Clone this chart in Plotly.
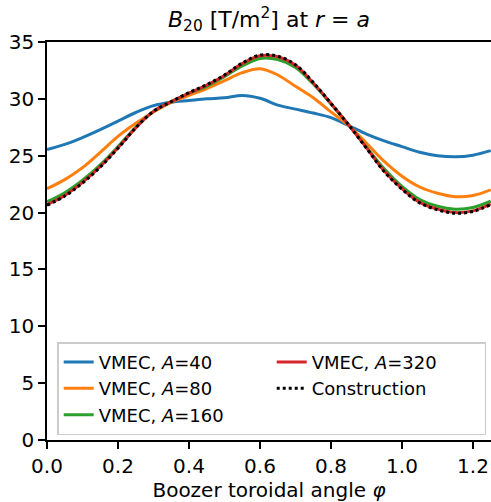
import numpy as np
import plotly.graph_objects as go

# Boozer toroidal angle grid (one field period)
phi = [0.00, 0.05, 0.10, 0.15, 0.20, 0.25, 0.30, 0.35, 0.40, 0.45, 0.50, 0.55, 0.60,
       0.65, 0.70, 0.75, 0.80, 0.85, 0.90, 0.95, 1.00, 1.05, 1.10, 1.15, 1.20, 1.25]

# B20 at r = a for each VMEC aspect ratio
b20_a40 = [25.55, 26.00, 26.60, 27.30, 28.05, 28.80, 29.40, 29.70, 29.85, 30.00, 30.10, 30.30, 30.05,
           29.45, 29.10, 28.75, 28.35, 27.65, 26.90, 26.30, 25.80, 25.30, 25.00, 24.90, 25.05, 25.45]
b20_a80 = [22.10, 22.90, 23.95, 25.30, 26.70, 27.85, 28.85, 29.70, 30.30, 30.90, 31.60, 32.30, 32.65,
           32.10, 31.10, 30.10, 28.85, 27.65, 26.10, 24.50, 23.20, 22.25, 21.70, 21.40, 21.50, 22.00]
b20_a160 = [20.95, 21.75, 22.85, 24.20, 25.80, 27.50, 28.90, 29.75, 30.50, 31.10, 31.95, 32.90, 33.55,
            33.45, 32.75, 31.30, 29.55, 27.70, 25.75, 23.85, 22.30, 21.15, 20.55, 20.30, 20.45, 21.00]
b20_a320 = [20.70, 21.50, 22.65, 24.05, 25.70, 27.45, 28.90, 29.75, 30.50, 31.20, 32.05, 33.10, 33.80,
            33.70, 32.95, 31.40, 29.60, 27.70, 25.70, 23.65, 22.10, 20.90, 20.30, 20.00, 20.15, 20.75]
b20_construction = [20.65, 21.45, 22.60, 24.00, 25.65, 27.45, 28.90, 29.75, 30.55, 31.25, 32.10, 33.15, 33.85,
                     33.75, 33.00, 31.45, 29.60, 27.70, 25.65, 23.60, 22.05, 20.85, 20.25, 19.95, 20.10, 20.70]

series = [
    ("VMEC, <i>A</i>=40", b20_a40, "#1f77b4", "solid", 1),
    ("VMEC, <i>A</i>=80", b20_a80, "#ff7f0e", "solid", 3),
    ("VMEC, <i>A</i>=160", b20_a160, "#2ca02c", "solid", 5),
    ("VMEC, <i>A</i>=320", b20_a320, "#d62728", "solid", 2),
    ("Construction", b20_construction, "black", "dot", 4),
]

fig = go.Figure()
for name, vals, color, dash, rank in series:
    fig.add_trace(go.Scatter(
        x=phi, y=vals, name=name, mode="lines",
        line=dict(color=color, width=3, dash=dash, shape="spline", smoothing=1.0),
        legendrank=rank,
    ))

font = "DejaVu Sans"
fig.update_layout(
    width=491, height=502,
    margin=dict(l=47, r=0, t=42, b=62),
    paper_bgcolor="white", plot_bgcolor="white",
    font=dict(family=font, size=20, color="black"),
    title=dict(text="<i>B</i><sub>20</sub> [T/m<sup>2</sup>] at <i>r</i> = <i>a</i>",
               x=(47 + 491) / 2 / 491, xanchor="center", y=0.962, yanchor="middle",
               font=dict(family=font, size=22)),
    legend=dict(
        orientation="h", x=0.023, y=0.012, xanchor="left", yanchor="bottom",
        entrywidth=168, bgcolor="rgba(255,255,255,0.8)",
        bordercolor="#cccccc", borderwidth=1.5,
        font=dict(family=font, size=18), tracegroupgap=0, itemwidth=30,
    ),
    showlegend=True,
)
fig.update_xaxes(
    range=[0, 1.2507], tickvals=[0, 0.2, 0.4, 0.6, 0.8, 1.0, 1.2],
    ticktext=["0.0", "0.2", "0.4", "0.6", "0.8", "1.0", "1.2"],
    ticks="outside", ticklen=7, tickwidth=1.6, tickcolor="black",
    showline=True, linecolor="black", linewidth=1.6, mirror=True,
    showgrid=False, zeroline=False,
    title=dict(text="Boozer toroidal angle <i>φ</i>", font=dict(family=font, size=20), standoff=4),
    tickfont=dict(family=font, size=20),
)
fig.update_yaxes(
    range=[0, 35], tickvals=[0, 5, 10, 15, 20, 25, 30, 35],
    ticks="outside", ticklen=7, tickwidth=1.6, tickcolor="black",
    showline=True, linecolor="black", linewidth=1.6, mirror=False,
    showgrid=False, zeroline=False,
    tickfont=dict(family=font, size=20),
)

fig.write_html("out.html")
